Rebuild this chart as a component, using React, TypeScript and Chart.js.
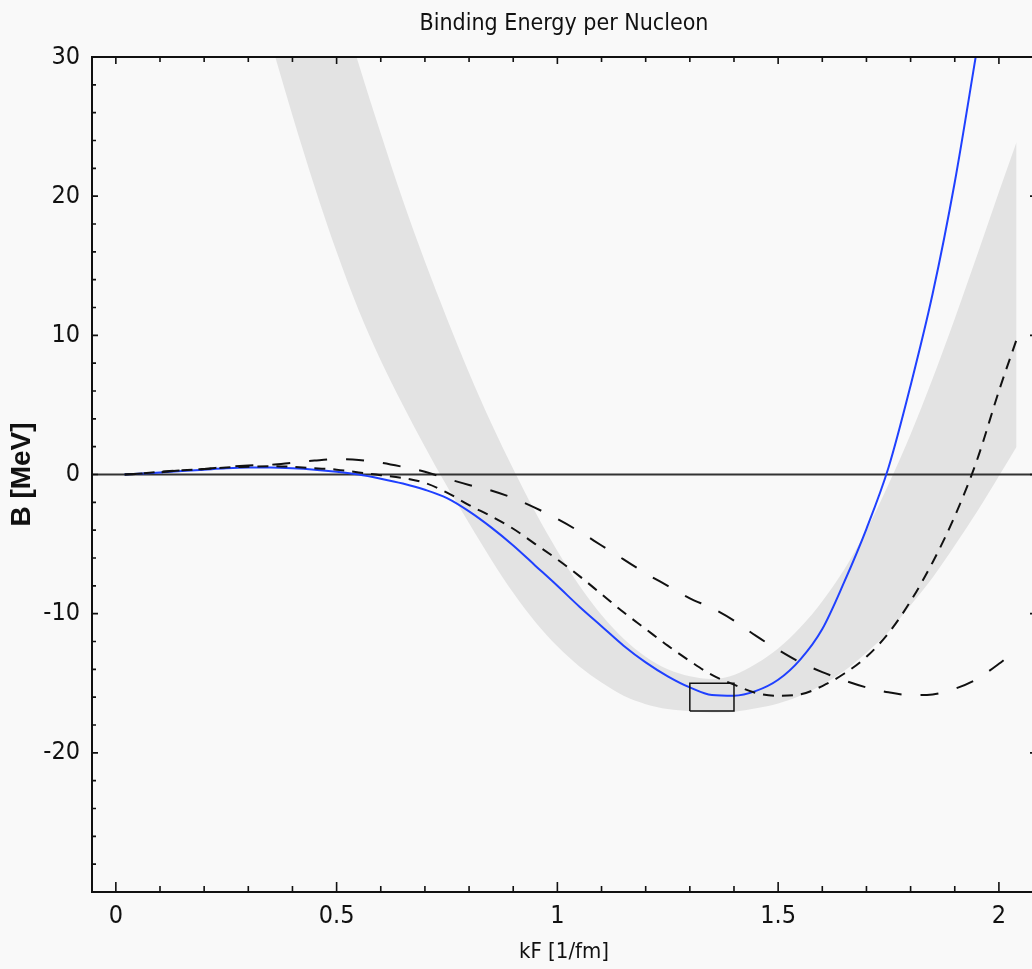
import React, { useEffect, useRef } from "react";
import { Chart, registerables } from "chart.js";

Chart.register(...registerables);

const NARROW = "'Liberation Sans Narrow', 'DejaVu Sans Condensed', 'Arial Narrow', sans-serif";
const SANS = "'Liberation Sans', Arial, sans-serif";

// Empirical saturation band (upper and lower edge) on a shared kF grid
const bandKF = [0.35, 0.4, 0.45, 0.5, 0.55, 0.6, 0.65, 0.7, 0.75, 0.8, 0.85, 0.9, 0.95, 1.0, 1.05, 1.1, 1.15, 1.2, 1.25, 1.3, 1.35, 1.4, 1.45, 1.5, 1.55, 1.6, 1.65, 1.7, 1.75, 1.8, 1.85, 1.9, 1.95, 2.0, 2.04];
const bandUpper = [52.0, 46.0, 40.3, 34.8, 29.5, 24.5, 19.7, 15.3, 11.2, 7.3, 3.7, 0.4, -2.7, -5.5, -8.0, -10.1, -11.8, -13.1, -14.0, -14.5, -14.7, -14.4, -13.6, -12.5, -11.0, -9.1, -6.8, -4.0, -0.7, 2.9, 6.9, 11.2, 15.7, 20.3, 23.9];
const bandLower = [31.2, 25.8, 20.7, 16.0, 11.8, 8.2, 5.0, 2.0, -0.85, -3.5, -6.1, -8.5, -10.6, -12.35, -13.8, -14.95, -15.9, -16.5, -16.85, -17.0, -17.1, -17.05, -16.8, -16.45, -15.9, -15.1, -14.1, -12.8, -11.3, -9.4, -7.4, -5.1, -2.7, -0.1, 2.0];

// Solid (blue) binding-energy curve
const solidKF = [0.02, 0.05, 0.1, 0.15, 0.2, 0.25, 0.3, 0.35, 0.4, 0.45, 0.5, 0.55, 0.6, 0.65, 0.7, 0.75, 0.8, 0.85, 0.9, 0.95, 1.0, 1.05, 1.1, 1.15, 1.2, 1.25, 1.3, 1.35, 1.4, 1.45, 1.5, 1.55, 1.6, 1.65, 1.7, 1.75, 1.8, 1.85, 1.9, 1.95];
const solidB = [0.0, 0.05, 0.15, 0.25, 0.35, 0.45, 0.5, 0.5, 0.45, 0.35, 0.2, 0.0, -0.3, -0.65, -1.1, -1.7, -2.65, -3.8, -5.1, -6.55, -8.0, -9.5, -10.9, -12.3, -13.5, -14.5, -15.3, -15.85, -15.9, -15.55, -14.75, -13.3, -11.1, -7.7, -3.9, 0.5, 6.4, 13.0, 21.0, 30.5];

// Dashed curves share one kF grid
const dashedKF = [0.02, 0.05, 0.1, 0.15, 0.2, 0.25, 0.3, 0.35, 0.4, 0.45, 0.5, 0.55, 0.6, 0.65, 0.7, 0.75, 0.8, 0.85, 0.9, 0.95, 1.0, 1.05, 1.1, 1.15, 1.2, 1.25, 1.3, 1.35, 1.4, 1.45, 1.5, 1.55, 1.6, 1.65, 1.7, 1.75, 1.8, 1.85, 1.9, 1.95, 2.0, 2.04];
const shortDashB = [0.0, 0.05, 0.2, 0.3, 0.4, 0.5, 0.55, 0.6, 0.55, 0.45, 0.35, 0.15, -0.05, -0.25, -0.6, -1.3, -2.2, -3.0, -3.9, -5.0, -6.1, -7.3, -8.6, -9.9, -11.1, -12.3, -13.4, -14.4, -15.1, -15.7, -15.9, -15.8, -15.2, -14.3, -13.1, -11.4, -9.1, -6.3, -3.0, 1.0, 6.0, 9.7];
const longDashB = [0.0, 0.05, 0.15, 0.3, 0.4, 0.55, 0.65, 0.7, 0.85, 1.0, 1.1, 1.05, 0.85, 0.55, 0.2, -0.3, -0.75, -1.15, -1.7, -2.4, -3.2, -4.1, -5.1, -6.1, -7.1, -8.0, -8.9, -9.6, -10.5, -11.6, -12.6, -13.5, -14.2, -14.8, -15.3, -15.65, -15.85, -15.8, -15.4, -14.7, -13.6, -12.6];

// Saturation box corners
const boxKF = [1.3, 1.4, 1.4, 1.3, 1.3];
const boxB = [-17, -17, -15, -15, -17];

// Axis ticks
const xTickValues = [0, 0.1, 0.2, 0.3, 0.4, 0.5, 0.6, 0.7, 0.8, 0.9, 1.0, 1.1, 1.2, 1.3, 1.4, 1.5, 1.6, 1.7, 1.8, 1.9, 2.0];
const xLabelValues = [0, 0.5, 1, 1.5, 2];
const xLabelTexts = ["0", "0.5", "1", "1.5", "2"];
const yTickValues = [-28, -26, -24, -22, -20, -18, -16, -14, -12, -10, -8, -6, -4, -2, 0, 2, 4, 6, 8, 10, 12, 14, 16, 18, 20, 22, 24, 26, 28, 30];
const yLabelValues = [-20, -10, 0, 10, 20, 30];
const yLabelTexts = ["-20", "-10", "0", "10", "20", "30"];

const X_MIN = -0.054;
const X_MAX = 2.084;
const Y_MIN = -30;
const Y_MAX = 30;

const BG = "#f9f9f9";
const INK = "#111111";

const zip = (xs: number[], ys: number[]) => xs.map((x, i) => ({ x, y: ys[i] }));

const labelFor = (v: number, values: number[], texts: string[]) => {
  const i = values.findIndex((u) => Math.abs(u - v) < 1e-6);
  return i >= 0 ? texts[i] : "";
};

// Background, zero line, frame and inward-pointing tick marks
const framePlugin = {
  id: "frame",
  beforeDraw(chart: any) {
    const { ctx, width, height } = chart;
    ctx.save();
    ctx.fillStyle = BG;
    ctx.fillRect(0, 0, width, height);
    ctx.restore();
  },
  beforeDatasetsDraw(chart: any) {
    const { ctx, chartArea, scales } = chart;
    const y0 = scales.y.getPixelForValue(0);
    ctx.save();
    ctx.strokeStyle = "#333333";
    ctx.lineWidth = 2;
    ctx.beginPath();
    ctx.moveTo(chartArea.left, y0);
    ctx.lineTo(chartArea.right, y0);
    ctx.stroke();
    ctx.restore();
  },
  afterDatasetsDraw(chart: any) {
    const { ctx, chartArea, scales } = chart;
    const { left, right, top, bottom } = chartArea;
    ctx.save();
    ctx.strokeStyle = INK;
    ctx.lineWidth = 2;
    ctx.strokeRect(left, top, right - left, bottom - top);
    ctx.lineWidth = 1.6;
    ctx.beginPath();
    for (const v of xTickValues) {
      const px = scales.x.getPixelForValue(v);
      const major = labelFor(v, xLabelValues, xLabelTexts) !== "";
      ctx.moveTo(px, bottom);
      ctx.lineTo(px, bottom - (major ? 10 : 6));
      ctx.moveTo(px, top);
      ctx.lineTo(px, top + (major ? 7 : 5));
    }
    for (const v of yTickValues) {
      const py = scales.y.getPixelForValue(v);
      const len = v % 10 === 0 ? 6 : 4;
      ctx.moveTo(left, py);
      ctx.lineTo(left + len, py);
      ctx.moveTo(right, py);
      ctx.lineTo(right - len, py);
    }
    ctx.stroke();
    ctx.restore();
  },
};

export default function App() {
  const canvasRef = useRef<HTMLCanvasElement | null>(null);

  useEffect(() => {
    const canvas = canvasRef.current;
    if (!canvas) return;
    const chart = new Chart(canvas, {
      type: "line",
      data: {
        datasets: [
          {
            label: "saturation box",
            data: zip(boxKF, boxB),
            borderColor: INK,
            borderWidth: 1.5,
            tension: 0,
            pointRadius: 0,
            fill: false,
          },
          {
            label: "short dashed",
            data: zip(dashedKF, shortDashB),
            borderColor: INK,
            borderWidth: 2,
            borderDash: [11, 8],
            cubicInterpolationMode: "monotone",
            pointRadius: 0,
            fill: false,
          },
          {
            label: "long dashed",
            data: zip(dashedKF, longDashB),
            borderColor: INK,
            borderWidth: 2,
            borderDash: [18, 19],
            cubicInterpolationMode: "monotone",
            pointRadius: 0,
            fill: false,
          },
          {
            label: "solid",
            data: zip(solidKF, solidB),
            borderColor: "#1f40ff",
            borderWidth: 2,
            cubicInterpolationMode: "monotone",
            pointRadius: 0,
            fill: false,
          },
          {
            label: "band upper",
            data: zip(bandKF, bandUpper),
            borderColor: "rgba(0,0,0,0)",
            borderWidth: 0,
            backgroundColor: "#e3e3e3",
            cubicInterpolationMode: "monotone",
            pointRadius: 0,
            fill: "+1",
          },
          {
            label: "band lower",
            data: zip(bandKF, bandLower),
            borderColor: "rgba(0,0,0,0)",
            borderWidth: 0,
            cubicInterpolationMode: "monotone",
            pointRadius: 0,
            fill: false,
          },
        ],
      },
      options: {
        responsive: false,
        animation: false,
        events: [],
        layout: { padding: { left: 0, top: 0, right: 4, bottom: 0 } },
        plugins: {
          legend: { display: false },
          tooltip: { enabled: false },
          filler: { drawTime: "beforeDatasetsDraw", propagate: false },
          title: {
            display: true,
            text: "Binding Energy per Nucleon",
            fullSize: false,
            color: INK,
            font: { family: NARROW, size: 23, weight: "normal", lineHeight: 1.2 },
            padding: { top: 10, bottom: 19.4 },
          },
        },
        scales: {
          x: {
            type: "linear",
            min: X_MIN,
            max: X_MAX,
            grid: { display: false, drawTicks: false },
            border: { display: false },
            afterBuildTicks: (s: any) => {
              s.ticks = xTickValues.map((value) => ({ value }));
            },
            afterFit: (s: any) => {
              s.height = 77;
            },
            ticks: {
              autoSkip: false,
              maxRotation: 0,
              padding: 9,
              color: INK,
              font: { family: NARROW, size: 25 },
              callback: (v: any) => labelFor(Number(v), xLabelValues, xLabelTexts),
            },
            title: {
              display: true,
              text: "kF [1/fm]",
              color: INK,
              font: { family: NARROW, size: 22 },
              padding: { top: 0, bottom: 4 },
            },
          },
          y: {
            type: "linear",
            min: Y_MIN,
            max: Y_MAX,
            grid: { display: false, drawTicks: false },
            border: { display: false },
            afterBuildTicks: (s: any) => {
              s.ticks = yTickValues.map((value) => ({ value }));
            },
            afterFit: (s: any) => {
              s.width = 92;
            },
            ticks: {
              autoSkip: false,
              padding: 12,
              color: INK,
              font: { family: NARROW, size: 25 },
              callback: (v: any) => labelFor(Number(v), yLabelValues, yLabelTexts),
            },
            title: {
              display: true,
              text: "B [MeV]",
              color: INK,
              font: { family: SANS, size: 28, weight: "bold" },
              padding: { top: 5, bottom: 0 },
            },
          },
        },
      },
      plugins: [framePlugin],
    } as any);
    return () => chart.destroy();
  }, []);

  return (
    <div
      style={{
        position: "absolute",
        left: 0,
        top: 0,
        width: 1032,
        height: 969,
        overflow: "hidden",
        background: BG,
      }}
    >
      <canvas ref={canvasRef} width={1040} height={969} style={{ display: "block", width: 1040, height: 969 }} />
    </div>
  );
}
